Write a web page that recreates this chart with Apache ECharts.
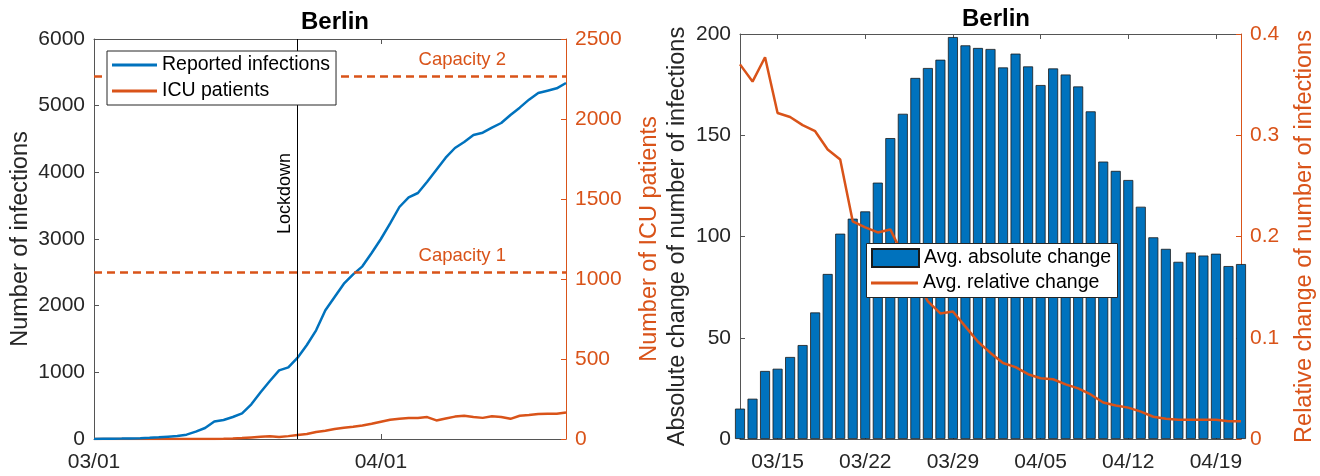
<!DOCTYPE html>
<html>
<head>
<meta charset="utf-8">
<script src="https://cdn.jsdelivr.net/npm/echarts@6/dist/echarts.min.js"></script>
<style>
html,body{margin:0;padding:0;background:#fff;}
#chart{width:1320px;height:476px;}
</style>
</head>
<body>
<div id="chart"></div>
<script>
// ---------- Data (left panel: days since 03/01) ----------
const infections = [0,2,4,6,9,13,18,25,35,45,65,110,165,262,285,330,385,520,700,870,1030,1075,1220,1410,1630,1930,2130,2330,2470,2590,2790,3000,3235,3480,3625,3690,3860,4040,4220,4365,4455,4560,4595,4670,4740,4860,4970,5090,5190,5225,5260,5340];
const icuPatients = [0,0,0,0,0,0,0,0,0,0,0,0,0,0,1,3,6,10,14,17,12,18,25,31,44,52,62,70,76,84,95,108,120,127,131,132,137,116,128,140,146,138,132,142,138,126,145,150,156,158,158,166];
const capacities = [1045, 2270];
const capacityLabels = ['Capacity 1', 'Capacity 2'];
const lockdownDay = 22;
const leftTickDays = [0, 31];
const leftTickLabels = ['03/01', '04/01'];

// ---------- Data (right panel: days since 03/12) ----------
const absChange = [15.0,19.9,33.6,34.7,40.5,46.4,62.5,81.5,101.4,108.8,112.4,126.6,148.6,160.6,178.3,183.2,187.3,198.5,194.4,193.1,192.6,183.5,190.3,184.0,174.8,183.0,180.0,174.1,161.8,137.0,132.4,127.9,114.7,99.6,93.9,87.5,92.1,90.6,91.5,85.4,86.4];
const relChange = [0.370,0.353,0.377,0.322,0.318,0.310,0.304,0.286,0.276,0.215,0.209,0.204,0.207,0.182,0.158,0.136,0.124,0.126,0.111,0.096,0.085,0.075,0.071,0.064,0.060,0.059,0.054,0.050,0.044,0.036,0.033,0.031,0.027,0.022,0.020,0.019,0.019,0.019,0.019,0.0175,0.0175];
const rightTickDays = [3, 10, 17, 24, 31, 38];
const rightTickLabels = ['03/15', '03/22', '03/29', '04/05', '04/12', '04/19'];

// ---------- Styles ----------
const FONT = 'Liberation Sans, Arial, Helvetica, sans-serif';
const BLUE = '#0072BD';
const ORANGE = '#D95319';
const DARK = '#262626';
const AXISGRAY = '#555555';

const chart = echarts.init(document.getElementById('chart'), null, {renderer: 'canvas'});

function xAxisBase(gridIndex, max, ticks, labels, position) {
  const isBottom = position === 'bottom';
  return {
    type: 'value', gridIndex: gridIndex, position: position, min: 0, max: max,
    splitLine: {show: false},
    axisLine: {show: true, onZero: false, lineStyle: {color: AXISGRAY, width: 1}},
    axisTick: {show: true, inside: true, length: 5, customValues: ticks, lineStyle: {color: AXISGRAY}},
    axisLabel: {
      show: isBottom, customValues: ticks, margin: 13,
      fontSize: 21, fontFamily: FONT, color: DARK,
      formatter: function (v) { const i = ticks.indexOf(Math.round(v)); return i >= 0 ? labels[i] : ''; }
    }
  };
}

function yAxisBase(gridIndex, position, max, interval, color, name, nameGap, fmt) {
  return {
    type: 'value', gridIndex: gridIndex, position: position, min: 0, max: max, interval: interval,
    name: name, nameLocation: 'middle', nameGap: nameGap,
    nameTextStyle: {fontSize: 23.5, fontFamily: FONT, color: color === AXISGRAY ? DARK : color},
    splitLine: {show: false},
    axisLine: {show: true, onZero: false, lineStyle: {color: color, width: 1}},
    axisTick: {show: true, inside: true, length: 5, lineStyle: {color: color}},
    axisLabel: {fontSize: 21, fontFamily: FONT, margin: 9, color: color === AXISGRAY ? DARK : color, formatter: fmt}
  };
}

const intFmt = v => String(Math.round(v));
const decFmt = v => String(Math.round(v * 10) / 10);

const capacityMarks = capacities.map((c, i) => ({
  yAxis: c,
  lineStyle: {color: ORANGE, type: [8, 5], width: 2.5},
  label: {
    show: true, formatter: capacityLabels[i], position: 'insideEndTop',
    color: ORANGE, fontSize: 18.5, fontFamily: FONT, distance: 6, padding: [0, 54, 0, 0]
  }
}));

const option = {
  animation: false,
  backgroundColor: '#fff',
  title: [
    {text: 'Berlin', left: 330, top: 5, textAlign: 'center',
     textStyle: {fontSize: 24, fontWeight: 'bold', color: '#000', fontFamily: FONT}},
    {text: 'Berlin', left: 991, top: 2, textAlign: 'center',
     textStyle: {fontSize: 24, fontWeight: 'bold', color: '#000', fontFamily: FONT}}
  ],
  grid: [
    {left: 94, right: 754, top: 39, bottom: 37, containLabel: false},
    {left: 740, right: 79, top: 34, bottom: 37, containLabel: false}
  ],
  legend: [
    {
      data: ['Reported infections', 'ICU patients'], orient: 'vertical',
      left: 107, top: 51, icon: 'rect', itemWidth: 45, itemHeight: 3, itemGap: 4,
      padding: [3, 6, 3, 5], borderColor: DARK, borderWidth: 1, backgroundColor: '#fff',
      textStyle: {fontSize: 19.5, fontFamily: FONT, color: '#000', lineHeight: 22}, z: 6
    },
    {
      data: ['Avg. absolute change'], left: 871, top: 248, icon: 'rect',
      itemWidth: 47, itemHeight: 18, padding: 0,
      textStyle: {fontSize: 19.5, fontFamily: FONT, color: '#000'}, z: 6
    },
    {
      data: ['Avg. relative change'], left: 871, top: 272, icon: 'rect',
      itemWidth: 47, itemHeight: 3, padding: 0,
      textStyle: {fontSize: 19.5, fontFamily: FONT, color: '#000', lineHeight: 22}, z: 6
    }
  ],
  graphic: [
    {type: 'rect', z: 5, left: 866, top: 243, shape: {width: 251, height: 54},
     style: {fill: '#fff', stroke: DARK, lineWidth: 1}}
  ],
  xAxis: [
    xAxisBase(0, infections.length - 1, leftTickDays, leftTickLabels, 'bottom'),
    xAxisBase(0, infections.length - 1, leftTickDays, leftTickLabels, 'top'),
    xAxisBase(1, absChange.length - 1, rightTickDays, rightTickLabels, 'bottom'),
    xAxisBase(1, absChange.length - 1, rightTickDays, rightTickLabels, 'top')
  ],
  yAxis: [
    yAxisBase(0, 'left', 6000, 1000, AXISGRAY, 'Number of infections', 61, intFmt),
    yAxisBase(0, 'right', 2500, 500, ORANGE, 'Number of ICU patients', 72, intFmt),
    yAxisBase(1, 'left', 200, 50, AXISGRAY, 'Absolute change of number of infections', 50, intFmt),
    yAxisBase(1, 'right', 0.4, 0.1, ORANGE, 'Relative change of number of infections', 52, decFmt)
  ],
  series: [
    {
      name: 'ICU patients', type: 'line', xAxisIndex: 0, yAxisIndex: 1,
      data: icuPatients.map((v, i) => [i, v]), symbol: 'none',
      lineStyle: {color: ORANGE, width: 2.5}, itemStyle: {color: ORANGE},
      markLine: {
        silent: true, symbol: ['none', 'none'], animation: false,
        data: capacityMarks.concat([{
          xAxis: lockdownDay,
          lineStyle: {color: '#000', type: 'solid', width: 1},
          label: {show: true, formatter: 'Lockdown', position: 'insideEndTop', color: '#000',
                  fontSize: 18, fontFamily: FONT, distance: 4, padding: [0, 110, 0, 0]}
        }])
      }
    },
    {
      name: 'Reported infections', type: 'line', xAxisIndex: 0, yAxisIndex: 0,
      data: infections.map((v, i) => [i, v]), symbol: 'none',
      lineStyle: {color: BLUE, width: 2.5}, itemStyle: {color: BLUE}, z: 3
    },
    {
      name: 'Avg. absolute change', type: 'bar', xAxisIndex: 2, yAxisIndex: 2,
      data: absChange.map((v, i) => [i, v]), barWidth: 10, clip: true,
      itemStyle: {color: BLUE, borderColor: '#1a1a1a', borderWidth: 0.8}
    },
    {
      name: 'Avg. relative change', type: 'line', xAxisIndex: 2, yAxisIndex: 3,
      data: relChange.map((v, i) => [i, v]), symbol: 'none',
      lineStyle: {color: ORANGE, width: 2.5}, itemStyle: {color: ORANGE}, z: 3
    }
  ]
};
chart.setOption(option);
</script>
</body>
</html>
